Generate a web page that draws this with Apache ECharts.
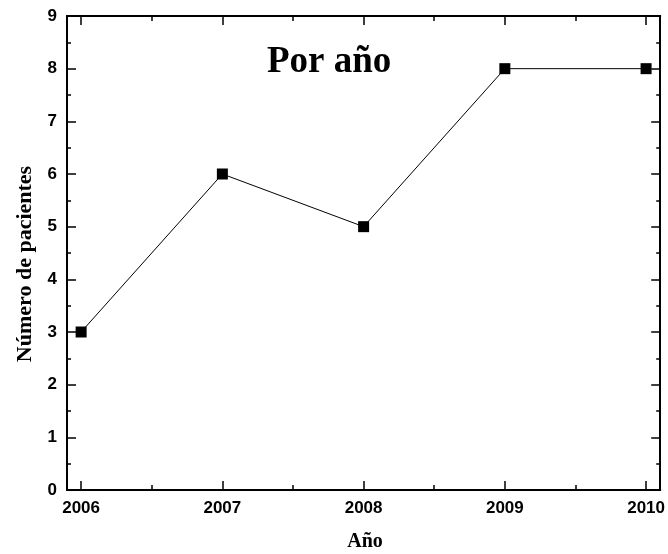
<!DOCTYPE html>
<html>
<head>
<meta charset="utf-8">
<script src="https://cdn.jsdelivr.net/npm/echarts@6/dist/echarts.min.js"></script>
<style>html,body{margin:0;padding:0;background:#fff}#c{width:668px;height:554px}</style>
</head>
<body>
<div id="c"></div>
<script>
const years = [2006, 2007, 2008, 2009, 2010];
const patients = [3, 6, 5, 8, 8];
const minorYears = [2006.5, 2007.5, 2008.5, 2009.5];
const titleText = 'Por año';
const xName = 'Año';
const yName = 'Número de pacientes';

const chart = echarts.init(document.getElementById('c'));
const lab = {fontFamily: 'Liberation Sans, Arial', fontWeight: 'bold', fontSize: 17, color: '#000'};
const xmin = 2005.9, xmax = 2010.1;
function xa(pos, major, showLabel) {
  return {
    type: 'value', min: xmin, max: xmax, position: pos, gridIndex: 0,
    axisLine: {show: true, onZero: false, lineStyle: {color: '#000', width: 2}},
    axisTick: {show: true, inside: true, length: major ? 9 : 5, lineStyle: {color: '#000', width: 1.5},
      customValues: major ? years : minorYears},
    axisLabel: showLabel ? Object.assign({show: true, margin: 10, customValues: years, formatter: v => String(v)}, lab) : {show: false},
    splitLine: {show: false}
  };
}
function ya(pos, showLabel) {
  return {
    type: 'value', min: 0, max: 9, interval: 1, position: pos,
    axisLine: {show: true, onZero: false, lineStyle: {color: '#000', width: 2}},
    axisTick: {show: true, inside: true, length: 9, lineStyle: {color: '#000', width: 1.5}},
    minorTick: {show: true, splitNumber: 2, length: 4, lineStyle: {color: '#000', width: 1.5}},
    axisLabel: showLabel ? Object.assign({show: true, margin: 10}, lab) : {show: false},
    splitLine: {show: false}
  };
}
chart.setOption({
  animation: false,
  backgroundColor: '#fff',
  grid: {left: 67, right: 6, top: 16, bottom: 64},
  xAxis: [xa('bottom', true, true), xa('bottom', false, false), xa('top', true, false), xa('top', false, false)],
  yAxis: [ya('left', true), ya('right', false)],
  graphic: [
    {type: 'text', left: 267, top: 44, style: {text: titleText, font: 'bold 37px "Liberation Serif", "Times New Roman"', fill: '#000'}},
    {type: 'text', x: 365, y: 542, style: {text: xName, font: 'bold 20px "Liberation Serif", "Times New Roman"', fill: '#000', align: 'center', verticalAlign: 'middle'}},
    {type: 'text', x: 25, y: 264, rotation: Math.PI / 2, style: {text: yName, font: 'bold 22px "Liberation Serif", "Times New Roman"', fill: '#000', align: 'center', verticalAlign: 'middle'}}
  ],
  series: [{
    type: 'line', xAxisIndex: 0, yAxisIndex: 0,
    data: years.map((y, i) => [y, patients[i]]),
    symbol: 'rect', symbolSize: 11,
    lineStyle: {color: '#000', width: 1},
    itemStyle: {color: '#000'}
  }]
});
</script>
</body>
</html>
